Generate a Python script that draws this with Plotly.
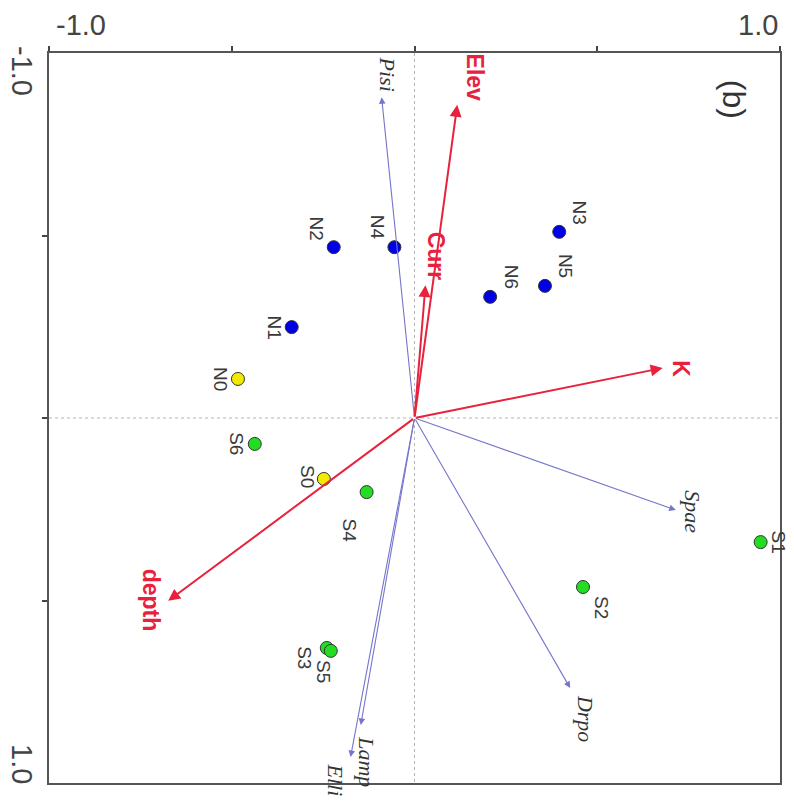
import plotly.graph_objects as go

# ---------------- data (display coordinates: x right, y down) ----------------
site_names = ["N0", "N1", "N2", "N3", "N4", "N5", "N6",
              "S0", "S1", "S2", "S3", "S4", "S5", "S6"]
site_x = [-0.483, -0.336, -0.221, 0.396, -0.055, 0.357, 0.207,
          -0.248, 0.947, 0.461, -0.240, -0.131, -0.229, -0.437]
site_y = [-0.107, -0.249, -0.468, -0.510, -0.468, -0.362, -0.332,
          0.167, 0.340, 0.463, 0.630, 0.203, 0.638, 0.071]
site_group = ["ref", "N", "N", "N", "N", "N", "N",
              "ref", "S", "S", "S", "S", "S", "S"]

env_names = ["Elev", "Curr", "K", "depth"]
env_x = [0.117, 0.030, 0.679, -0.674]
env_y = [-0.858, -0.364, -0.137, 0.501]

spp_names = ["Pisi", "Spae", "Drpo", "Lamp", "Elli"]
spp_x = [-0.090, 0.715, 0.426, -0.147, -0.175]
spp_y = [-0.879, 0.252, 0.740, 0.841, 0.929]

tick_vals = [-1.0, -0.5, 0.0, 0.5, 1.0]
tick_text = ["-1.0", "1.0"]
panel_label = "(b)"

# ---------------- styles ----------------
group_color = {"ref": "#f2ea00", "N": "#0000e6", "S": "#22dd22"}
RED = "#e8223c"
BLUE_LINE = "#7575cc"
LABEL_GREY = "#3a3a3a"
# label pixel offsets (dx right, dy down)
site_off = {"N0": (-18, 0), "N1": (-17, 0), "N2": (-17, -19), "N3": (20, -19),
            "N4": (-17, -20), "N5": (20, -20), "N6": (21, -20), "S0": (-17, -2),
            "S1": (18, 0), "S2": (19, 20), "S3": (-23, 10), "S4": (-17, 38),
            "S5": (-8, 21), "S6": (-19, 0)}
env_off = {"Elev": (18, -27), "Curr": (10, -29), "K": (18, 1), "depth": (-17, -1)}
spp_off = {"Pisi": (6, -23), "Spae": (16, 2), "Drpo": (16, 30),
           "Lamp": (5, 37), "Elli": (-15, 23)}

fig = go.Figure()

# zero lines (dotted)
fig.add_shape(type="line", x0=0, x1=0, y0=-1, y1=1, xref="x", yref="y",
              line=dict(color="#b5b5b5", width=1, dash="dot"), layer="below")
fig.add_shape(type="line", x0=-1, x1=1, y0=0, y1=0, xref="x", yref="y",
              line=dict(color="#b5b5b5", width=1, dash="dot"), layer="below")

annotations = []

# species arrows (thin blue)
for n, x, y in zip(spp_names, spp_x, spp_y):
    annotations.append(dict(x=x, y=y, ax=0, ay=0, xref="x", yref="y", axref="x", ayref="y",
                            text="", showarrow=True, arrowhead=2, arrowsize=1.2,
                            arrowwidth=1.1, arrowcolor=BLUE_LINE))
    dx, dy = spp_off[n]
    annotations.append(dict(x=x, y=y, xref="x", yref="y", text=n, showarrow=False,
                            textangle=90, xshift=dx, yshift=-dy,
                            font=dict(family="Liberation Serif", size=22, color="#333333",
                                      style="italic")))

# environmental arrows (red)
for n, x, y in zip(env_names, env_x, env_y):
    annotations.append(dict(x=x, y=y, ax=0, ay=0, xref="x", yref="y", axref="x", ayref="y",
                            text="", showarrow=True, arrowhead=2, arrowsize=1.2,
                            arrowwidth=2, arrowcolor=RED))
    dx, dy = env_off[n]
    annotations.append(dict(x=x, y=y, xref="x", yref="y", text="<b>%s</b>" % n,
                            showarrow=False, textangle=90, xshift=dx, yshift=-dy,
                            font=dict(family="Liberation Sans", size=23, color=RED)))

# site points
for g in ["ref", "N", "S"]:
    idx = [i for i, gg in enumerate(site_group) if gg == g]
    fig.add_trace(go.Scatter(
        x=[site_x[i] for i in idx], y=[site_y[i] for i in idx], mode="markers",
        marker=dict(size=13, color=group_color[g], line=dict(color="#333333", width=1)),
        showlegend=False, hoverinfo="skip", cliponaxis=False))

for n, x, y in zip(site_names, site_x, site_y):
    dx, dy = site_off[n]
    annotations.append(dict(x=x, y=y, xref="x", yref="y", text=n, showarrow=False,
                            textangle=90, xshift=dx, yshift=-dy,
                            font=dict(family="Liberation Sans", size=19, color=LABEL_GREY)))

tick_font = dict(family="Liberation Sans", size=29, color="#444444")
# tick labels (top, horizontal)
annotations.append(dict(x=0, y=1, xref="paper", yref="paper", text=tick_text[0],
                        showarrow=False, xanchor="left", yanchor="bottom", yshift=10, xshift=5,
                        font=tick_font))
annotations.append(dict(x=1, y=1, xref="paper", yref="paper", text=tick_text[1],
                        showarrow=False, xanchor="right", yanchor="bottom", yshift=10,
                        font=tick_font))
# tick labels (left, rotated)
annotations.append(dict(x=0, y=1, xref="paper", yref="paper", text=tick_text[0],
                        showarrow=False, textangle=90, xanchor="right", yanchor="top",
                        xshift=-9, yshift=9, font=tick_font))
annotations.append(dict(x=0, y=0, xref="paper", yref="paper", text=tick_text[1],
                        showarrow=False, textangle=90, xanchor="right", yanchor="bottom",
                        xshift=-9, yshift=-3, font=tick_font))
# panel label
annotations.append(dict(x=0.937, y=0.936, xref="paper", yref="paper", text=panel_label,
                        showarrow=False, textangle=90, xanchor="center", yanchor="middle",
                        font=dict(family="Liberation Sans", size=32, color="#333333")))

axis_common = dict(showgrid=False, zeroline=False, showline=True, linecolor="#555555",
                   linewidth=2, mirror=True, ticks="outside", ticklen=5, tickwidth=1.5,
                   tickcolor="#444444", showticklabels=False)

fig.update_layout(
    width=794, height=809,
    margin=dict(l=49, r=12, t=53, b=26),
    paper_bgcolor="white", plot_bgcolor="white",
    xaxis=dict(range=[-1, 1], side="top", tickvals=tick_vals, **axis_common),
    yaxis=dict(range=[1, -1], tickvals=tick_vals[1:-1], **axis_common),
    annotations=annotations,
    showlegend=False,
)

fig.write_html("out.html")
